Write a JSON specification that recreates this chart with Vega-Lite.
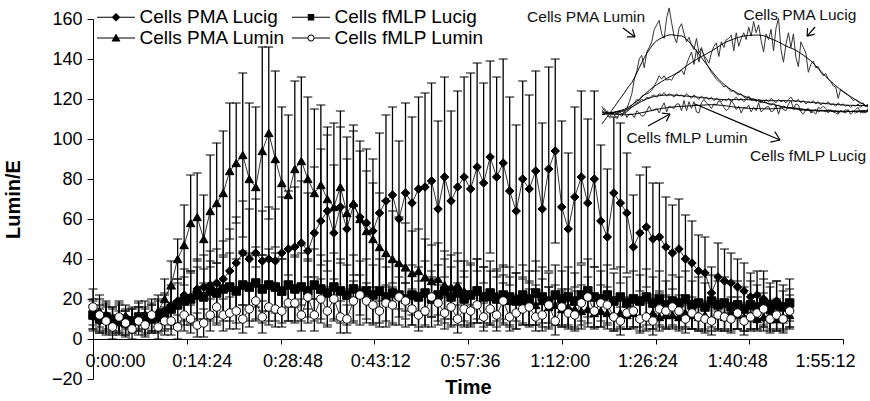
{
"$schema":"https://vega.github.io/schema/vega-lite/v6.json",
"width":750,"height":360,
"autosize":{"type":"none"},
"padding":{"left":93,"top":19,"right":27,"bottom":22},
"background":"white",
"config":{"view":{"stroke":null},"font":"Liberation Sans","axis":{"grid":false}},
"datasets":{
"series":[
{"t":0,"s":"Cells PMA Lucig","v":11,"e":6},{"t":1,"s":"Cells PMA Lucig","v":9,"e":6},{"t":2,"s":"Cells PMA Lucig","v":12,"e":7},{"t":3,"s":"Cells PMA Lucig","v":10,"e":6},{"t":4,"s":"Cells PMA Lucig","v":8,"e":6},{"t":5,"s":"Cells PMA Lucig","v":11,"e":6},{"t":6,"s":"Cells PMA Lucig","v":9,"e":6},{"t":7,"s":"Cells PMA Lucig","v":10,"e":6},{"t":8,"s":"Cells PMA Lucig","v":12,"e":7},{"t":9,"s":"Cells PMA Lucig","v":10,"e":7},
{"t":10,"s":"Cells PMA Lucig","v":12,"e":8},{"t":11,"s":"Cells PMA Lucig","v":14,"e":9},{"t":12,"s":"Cells PMA Lucig","v":17,"e":10},{"t":13,"s":"Cells PMA Lucig","v":19,"e":11},{"t":14,"s":"Cells PMA Lucig","v":22,"e":13},{"t":15,"s":"Cells PMA Lucig","v":21,"e":13},{"t":16,"s":"Cells PMA Lucig","v":25,"e":15},{"t":17,"s":"Cells PMA Lucig","v":26,"e":16},{"t":18,"s":"Cells PMA Lucig","v":27,"e":17},{"t":19,"s":"Cells PMA Lucig","v":28,"e":17},
{"t":20,"s":"Cells PMA Lucig","v":30,"e":19},{"t":21,"s":"Cells PMA Lucig","v":34,"e":21},{"t":22,"s":"Cells PMA Lucig","v":38,"e":23},{"t":23,"s":"Cells PMA Lucig","v":43,"e":26},{"t":24,"s":"Cells PMA Lucig","v":40,"e":25},{"t":25,"s":"Cells PMA Lucig","v":43,"e":27},{"t":26,"s":"Cells PMA Lucig","v":39,"e":25},{"t":27,"s":"Cells PMA Lucig","v":40,"e":26},{"t":28,"s":"Cells PMA Lucig","v":39,"e":26},{"t":29,"s":"Cells PMA Lucig","v":43,"e":28},
{"t":30,"s":"Cells PMA Lucig","v":45,"e":29},{"t":31,"s":"Cells PMA Lucig","v":46,"e":30},{"t":32,"s":"Cells PMA Lucig","v":48,"e":31},{"t":33,"s":"Cells PMA Lucig","v":44,"e":29},{"t":34,"s":"Cells PMA Lucig","v":53,"e":33},{"t":35,"s":"Cells PMA Lucig","v":59,"e":36},{"t":36,"s":"Cells PMA Lucig","v":64,"e":38},{"t":37,"s":"Cells PMA Lucig","v":53,"e":34},{"t":38,"s":"Cells PMA Lucig","v":66,"e":40},{"t":39,"s":"Cells PMA Lucig","v":55,"e":35},
{"t":40,"s":"Cells PMA Lucig","v":67,"e":40},{"t":41,"s":"Cells PMA Lucig","v":61,"e":38},{"t":42,"s":"Cells PMA Lucig","v":58,"e":37},{"t":43,"s":"Cells PMA Lucig","v":54,"e":36},{"t":44,"s":"Cells PMA Lucig","v":63,"e":40},{"t":45,"s":"Cells PMA Lucig","v":69,"e":43},{"t":46,"s":"Cells PMA Lucig","v":72,"e":44},{"t":47,"s":"Cells PMA Lucig","v":60,"e":39},{"t":48,"s":"Cells PMA Lucig","v":73,"e":45},{"t":49,"s":"Cells PMA Lucig","v":68,"e":43},
{"t":50,"s":"Cells PMA Lucig","v":75,"e":46},{"t":51,"s":"Cells PMA Lucig","v":76,"e":47},{"t":52,"s":"Cells PMA Lucig","v":79,"e":49},{"t":53,"s":"Cells PMA Lucig","v":65,"e":44},{"t":54,"s":"Cells PMA Lucig","v":81,"e":50},{"t":55,"s":"Cells PMA Lucig","v":69,"e":45},{"t":56,"s":"Cells PMA Lucig","v":76,"e":48},{"t":57,"s":"Cells PMA Lucig","v":81,"e":50},{"t":58,"s":"Cells PMA Lucig","v":75,"e":58},{"t":59,"s":"Cells PMA Lucig","v":86,"e":52},
{"t":60,"s":"Cells PMA Lucig","v":78,"e":50},{"t":61,"s":"Cells PMA Lucig","v":91,"e":48},{"t":62,"s":"Cells PMA Lucig","v":81,"e":50},{"t":63,"s":"Cells PMA Lucig","v":88,"e":52},{"t":64,"s":"Cells PMA Lucig","v":74,"e":47},{"t":65,"s":"Cells PMA Lucig","v":64,"e":43},{"t":66,"s":"Cells PMA Lucig","v":80,"e":49},{"t":67,"s":"Cells PMA Lucig","v":75,"e":47},{"t":68,"s":"Cells PMA Lucig","v":84,"e":50},{"t":69,"s":"Cells PMA Lucig","v":65,"e":43},
{"t":70,"s":"Cells PMA Lucig","v":85,"e":51},{"t":71,"s":"Cells PMA Lucig","v":94,"e":46},{"t":72,"s":"Cells PMA Lucig","v":66,"e":43},{"t":73,"s":"Cells PMA Lucig","v":55,"e":38},{"t":74,"s":"Cells PMA Lucig","v":71,"e":45},{"t":75,"s":"Cells PMA Lucig","v":81,"e":43},{"t":76,"s":"Cells PMA Lucig","v":68,"e":42},{"t":77,"s":"Cells PMA Lucig","v":80,"e":44},{"t":78,"s":"Cells PMA Lucig","v":59,"e":38},{"t":79,"s":"Cells PMA Lucig","v":51,"e":34},
{"t":80,"s":"Cells PMA Lucig","v":73,"e":38},{"t":81,"s":"Cells PMA Lucig","v":68,"e":40},{"t":82,"s":"Cells PMA Lucig","v":63,"e":30},{"t":83,"s":"Cells PMA Lucig","v":46,"e":26},{"t":84,"s":"Cells PMA Lucig","v":53,"e":29},{"t":85,"s":"Cells PMA Lucig","v":56,"e":30},{"t":86,"s":"Cells PMA Lucig","v":50,"e":28},{"t":87,"s":"Cells PMA Lucig","v":51,"e":27},{"t":88,"s":"Cells PMA Lucig","v":46,"e":25},{"t":89,"s":"Cells PMA Lucig","v":43,"e":24},
{"t":90,"s":"Cells PMA Lucig","v":45,"e":25},{"t":91,"s":"Cells PMA Lucig","v":40,"e":22},{"t":92,"s":"Cells PMA Lucig","v":38,"e":21},{"t":93,"s":"Cells PMA Lucig","v":34,"e":18},{"t":94,"s":"Cells PMA Lucig","v":33,"e":18},{"t":95,"s":"Cells PMA Lucig","v":23,"e":13},{"t":96,"s":"Cells PMA Lucig","v":31,"e":17},{"t":97,"s":"Cells PMA Lucig","v":29,"e":16},{"t":98,"s":"Cells PMA Lucig","v":28,"e":15},{"t":99,"s":"Cells PMA Lucig","v":26,"e":14},
{"t":100,"s":"Cells PMA Lucig","v":24,"e":14},{"t":101,"s":"Cells PMA Lucig","v":21,"e":12},{"t":102,"s":"Cells PMA Lucig","v":22,"e":12},{"t":103,"s":"Cells PMA Lucig","v":20,"e":14},{"t":104,"s":"Cells PMA Lucig","v":18,"e":10},{"t":105,"s":"Cells PMA Lucig","v":19,"e":10},{"t":106,"s":"Cells PMA Lucig","v":16,"e":8},{"t":107,"s":"Cells PMA Lucig","v":17,"e":8},
{"t":0,"s":"Cells PMA Lumin","v":12,"e":7},{"t":1,"s":"Cells PMA Lumin","v":14,"e":8},{"t":2,"s":"Cells PMA Lumin","v":10,"e":7},{"t":3,"s":"Cells PMA Lumin","v":9,"e":6},{"t":4,"s":"Cells PMA Lumin","v":11,"e":7},{"t":5,"s":"Cells PMA Lumin","v":8,"e":6},{"t":6,"s":"Cells PMA Lumin","v":10,"e":6},{"t":7,"s":"Cells PMA Lumin","v":12,"e":7},{"t":8,"s":"Cells PMA Lumin","v":9,"e":6},{"t":9,"s":"Cells PMA Lumin","v":11,"e":7},
{"t":10,"s":"Cells PMA Lumin","v":14,"e":8},{"t":11,"s":"Cells PMA Lumin","v":20,"e":10},{"t":12,"s":"Cells PMA Lumin","v":27,"e":12},{"t":13,"s":"Cells PMA Lumin","v":40,"e":10},{"t":14,"s":"Cells PMA Lumin","v":47,"e":20},{"t":15,"s":"Cells PMA Lumin","v":58,"e":24},{"t":16,"s":"Cells PMA Lumin","v":61,"e":22},{"t":17,"s":"Cells PMA Lumin","v":50,"e":22},{"t":18,"s":"Cells PMA Lumin","v":64,"e":28},{"t":19,"s":"Cells PMA Lumin","v":68,"e":30},
{"t":20,"s":"Cells PMA Lumin","v":73,"e":31},{"t":21,"s":"Cells PMA Lumin","v":84,"e":34},{"t":22,"s":"Cells PMA Lumin","v":88,"e":30},{"t":23,"s":"Cells PMA Lumin","v":92,"e":41},{"t":24,"s":"Cells PMA Lumin","v":80,"e":38},{"t":25,"s":"Cells PMA Lumin","v":76,"e":40},{"t":26,"s":"Cells PMA Lumin","v":94,"e":52},{"t":27,"s":"Cells PMA Lumin","v":103,"e":43},{"t":28,"s":"Cells PMA Lumin","v":90,"e":44},{"t":29,"s":"Cells PMA Lumin","v":78,"e":38},
{"t":30,"s":"Cells PMA Lumin","v":72,"e":40},{"t":31,"s":"Cells PMA Lumin","v":85,"e":44},{"t":32,"s":"Cells PMA Lumin","v":89,"e":42},{"t":33,"s":"Cells PMA Lumin","v":80,"e":41},{"t":34,"s":"Cells PMA Lumin","v":73,"e":42},{"t":35,"s":"Cells PMA Lumin","v":77,"e":40},{"t":36,"s":"Cells PMA Lumin","v":70,"e":36},{"t":37,"s":"Cells PMA Lumin","v":66,"e":42},{"t":38,"s":"Cells PMA Lumin","v":76,"e":38},{"t":39,"s":"Cells PMA Lumin","v":63,"e":38},
{"t":40,"s":"Cells PMA Lumin","v":68,"e":36},{"t":41,"s":"Cells PMA Lumin","v":60,"e":34},{"t":42,"s":"Cells PMA Lumin","v":54,"e":30},{"t":43,"s":"Cells PMA Lumin","v":50,"e":28},{"t":44,"s":"Cells PMA Lumin","v":46,"e":27},{"t":45,"s":"Cells PMA Lumin","v":43,"e":26},{"t":46,"s":"Cells PMA Lumin","v":40,"e":24},{"t":47,"s":"Cells PMA Lumin","v":38,"e":23},{"t":48,"s":"Cells PMA Lumin","v":36,"e":22},{"t":49,"s":"Cells PMA Lumin","v":33,"e":21},
{"t":50,"s":"Cells PMA Lumin","v":34,"e":21},{"t":51,"s":"Cells PMA Lumin","v":31,"e":19},{"t":52,"s":"Cells PMA Lumin","v":29,"e":18},{"t":53,"s":"Cells PMA Lumin","v":30,"e":18},{"t":54,"s":"Cells PMA Lumin","v":27,"e":17},{"t":55,"s":"Cells PMA Lumin","v":26,"e":16},{"t":56,"s":"Cells PMA Lumin","v":27,"e":16},{"t":57,"s":"Cells PMA Lumin","v":24,"e":15},{"t":58,"s":"Cells PMA Lumin","v":23,"e":15},{"t":59,"s":"Cells PMA Lumin","v":25,"e":15},
{"t":60,"s":"Cells PMA Lumin","v":22,"e":14},{"t":61,"s":"Cells PMA Lumin","v":21,"e":13},{"t":62,"s":"Cells PMA Lumin","v":22,"e":13},{"t":63,"s":"Cells PMA Lumin","v":20,"e":12},{"t":64,"s":"Cells PMA Lumin","v":19,"e":12},{"t":65,"s":"Cells PMA Lumin","v":21,"e":12},{"t":66,"s":"Cells PMA Lumin","v":19,"e":11},{"t":67,"s":"Cells PMA Lumin","v":18,"e":11},{"t":68,"s":"Cells PMA Lumin","v":17,"e":10},{"t":69,"s":"Cells PMA Lumin","v":19,"e":11},
{"t":70,"s":"Cells PMA Lumin","v":16,"e":10},{"t":71,"s":"Cells PMA Lumin","v":17,"e":10},{"t":72,"s":"Cells PMA Lumin","v":15,"e":9},{"t":73,"s":"Cells PMA Lumin","v":16,"e":9},{"t":74,"s":"Cells PMA Lumin","v":15,"e":9},{"t":75,"s":"Cells PMA Lumin","v":14,"e":9},{"t":76,"s":"Cells PMA Lumin","v":15,"e":9},{"t":77,"s":"Cells PMA Lumin","v":13,"e":8},{"t":78,"s":"Cells PMA Lumin","v":14,"e":8},{"t":79,"s":"Cells PMA Lumin","v":13,"e":8},
{"t":80,"s":"Cells PMA Lumin","v":12,"e":8},{"t":81,"s":"Cells PMA Lumin","v":13,"e":8},{"t":82,"s":"Cells PMA Lumin","v":12,"e":7},{"t":83,"s":"Cells PMA Lumin","v":13,"e":8},{"t":84,"s":"Cells PMA Lumin","v":11,"e":7},{"t":85,"s":"Cells PMA Lumin","v":12,"e":7},{"t":86,"s":"Cells PMA Lumin","v":13,"e":8},{"t":87,"s":"Cells PMA Lumin","v":11,"e":7},{"t":88,"s":"Cells PMA Lumin","v":12,"e":7},{"t":89,"s":"Cells PMA Lumin","v":12,"e":7},
{"t":90,"s":"Cells PMA Lumin","v":11,"e":7},{"t":91,"s":"Cells PMA Lumin","v":13,"e":8},{"t":92,"s":"Cells PMA Lumin","v":12,"e":7},{"t":93,"s":"Cells PMA Lumin","v":11,"e":7},{"t":94,"s":"Cells PMA Lumin","v":12,"e":7},{"t":95,"s":"Cells PMA Lumin","v":10,"e":6},{"t":96,"s":"Cells PMA Lumin","v":12,"e":7},{"t":97,"s":"Cells PMA Lumin","v":11,"e":7},{"t":98,"s":"Cells PMA Lumin","v":13,"e":8},{"t":99,"s":"Cells PMA Lumin","v":12,"e":7},
{"t":100,"s":"Cells PMA Lumin","v":11,"e":7},{"t":101,"s":"Cells PMA Lumin","v":12,"e":7},{"t":102,"s":"Cells PMA Lumin","v":10,"e":6},{"t":103,"s":"Cells PMA Lumin","v":11,"e":7},{"t":104,"s":"Cells PMA Lumin","v":12,"e":7},{"t":105,"s":"Cells PMA Lumin","v":10,"e":6},{"t":106,"s":"Cells PMA Lumin","v":11,"e":7},{"t":107,"s":"Cells PMA Lumin","v":12,"e":7},
{"t":0,"s":"Cells fMLP Lucig","v":12,"e":8},{"t":1,"s":"Cells fMLP Lucig","v":10,"e":7},{"t":2,"s":"Cells fMLP Lucig","v":11,"e":7},{"t":3,"s":"Cells fMLP Lucig","v":9,"e":7},{"t":4,"s":"Cells fMLP Lucig","v":10,"e":7},{"t":5,"s":"Cells fMLP Lucig","v":8,"e":6},{"t":6,"s":"Cells fMLP Lucig","v":9,"e":6},{"t":7,"s":"Cells fMLP Lucig","v":11,"e":7},{"t":8,"s":"Cells fMLP Lucig","v":9,"e":7},{"t":9,"s":"Cells fMLP Lucig","v":10,"e":7},
{"t":10,"s":"Cells fMLP Lucig","v":11,"e":8},{"t":11,"s":"Cells fMLP Lucig","v":13,"e":9},{"t":12,"s":"Cells fMLP Lucig","v":15,"e":10},{"t":13,"s":"Cells fMLP Lucig","v":17,"e":11},{"t":14,"s":"Cells fMLP Lucig","v":19,"e":12},{"t":15,"s":"Cells fMLP Lucig","v":20,"e":13},{"t":16,"s":"Cells fMLP Lucig","v":22,"e":14},{"t":17,"s":"Cells fMLP Lucig","v":21,"e":14},{"t":18,"s":"Cells fMLP Lucig","v":24,"e":15},{"t":19,"s":"Cells fMLP Lucig","v":23,"e":15},
{"t":20,"s":"Cells fMLP Lucig","v":25,"e":16},{"t":21,"s":"Cells fMLP Lucig","v":26,"e":17},{"t":22,"s":"Cells fMLP Lucig","v":24,"e":16},{"t":23,"s":"Cells fMLP Lucig","v":27,"e":17},{"t":24,"s":"Cells fMLP Lucig","v":26,"e":17},{"t":25,"s":"Cells fMLP Lucig","v":28,"e":18},{"t":26,"s":"Cells fMLP Lucig","v":25,"e":17},{"t":27,"s":"Cells fMLP Lucig","v":27,"e":18},{"t":28,"s":"Cells fMLP Lucig","v":26,"e":17},{"t":29,"s":"Cells fMLP Lucig","v":24,"e":16},
{"t":30,"s":"Cells fMLP Lucig","v":27,"e":18},{"t":31,"s":"Cells fMLP Lucig","v":25,"e":17},{"t":32,"s":"Cells fMLP Lucig","v":26,"e":17},{"t":33,"s":"Cells fMLP Lucig","v":24,"e":16},{"t":34,"s":"Cells fMLP Lucig","v":27,"e":18},{"t":35,"s":"Cells fMLP Lucig","v":25,"e":17},{"t":36,"s":"Cells fMLP Lucig","v":23,"e":16},{"t":37,"s":"Cells fMLP Lucig","v":26,"e":17},{"t":38,"s":"Cells fMLP Lucig","v":24,"e":16},{"t":39,"s":"Cells fMLP Lucig","v":22,"e":15},
{"t":40,"s":"Cells fMLP Lucig","v":25,"e":17},{"t":41,"s":"Cells fMLP Lucig","v":23,"e":16},{"t":42,"s":"Cells fMLP Lucig","v":24,"e":16},{"t":43,"s":"Cells fMLP Lucig","v":22,"e":15},{"t":44,"s":"Cells fMLP Lucig","v":24,"e":16},{"t":45,"s":"Cells fMLP Lucig","v":21,"e":15},{"t":46,"s":"Cells fMLP Lucig","v":23,"e":16},{"t":47,"s":"Cells fMLP Lucig","v":22,"e":15},{"t":48,"s":"Cells fMLP Lucig","v":20,"e":14},{"t":49,"s":"Cells fMLP Lucig","v":22,"e":15},
{"t":50,"s":"Cells fMLP Lucig","v":21,"e":15},{"t":51,"s":"Cells fMLP Lucig","v":23,"e":16},{"t":52,"s":"Cells fMLP Lucig","v":20,"e":14},{"t":53,"s":"Cells fMLP Lucig","v":22,"e":15},{"t":54,"s":"Cells fMLP Lucig","v":24,"e":16},{"t":55,"s":"Cells fMLP Lucig","v":21,"e":15},{"t":56,"s":"Cells fMLP Lucig","v":23,"e":16},{"t":57,"s":"Cells fMLP Lucig","v":20,"e":14},{"t":58,"s":"Cells fMLP Lucig","v":22,"e":15},{"t":59,"s":"Cells fMLP Lucig","v":24,"e":16},
{"t":60,"s":"Cells fMLP Lucig","v":21,"e":15},{"t":61,"s":"Cells fMLP Lucig","v":23,"e":16},{"t":62,"s":"Cells fMLP Lucig","v":20,"e":14},{"t":63,"s":"Cells fMLP Lucig","v":22,"e":15},{"t":64,"s":"Cells fMLP Lucig","v":21,"e":15},{"t":65,"s":"Cells fMLP Lucig","v":19,"e":14},{"t":66,"s":"Cells fMLP Lucig","v":22,"e":15},{"t":67,"s":"Cells fMLP Lucig","v":20,"e":14},{"t":68,"s":"Cells fMLP Lucig","v":23,"e":16},{"t":69,"s":"Cells fMLP Lucig","v":21,"e":15},
{"t":70,"s":"Cells fMLP Lucig","v":19,"e":14},{"t":71,"s":"Cells fMLP Lucig","v":22,"e":15},{"t":72,"s":"Cells fMLP Lucig","v":20,"e":14},{"t":73,"s":"Cells fMLP Lucig","v":21,"e":15},{"t":74,"s":"Cells fMLP Lucig","v":19,"e":14},{"t":75,"s":"Cells fMLP Lucig","v":22,"e":15},{"t":76,"s":"Cells fMLP Lucig","v":24,"e":16},{"t":77,"s":"Cells fMLP Lucig","v":21,"e":15},{"t":78,"s":"Cells fMLP Lucig","v":20,"e":14},{"t":79,"s":"Cells fMLP Lucig","v":22,"e":15},
{"t":80,"s":"Cells fMLP Lucig","v":19,"e":14},{"t":81,"s":"Cells fMLP Lucig","v":21,"e":15},{"t":82,"s":"Cells fMLP Lucig","v":18,"e":13},{"t":83,"s":"Cells fMLP Lucig","v":20,"e":14},{"t":84,"s":"Cells fMLP Lucig","v":19,"e":13},{"t":85,"s":"Cells fMLP Lucig","v":21,"e":14},{"t":86,"s":"Cells fMLP Lucig","v":18,"e":13},{"t":87,"s":"Cells fMLP Lucig","v":20,"e":14},{"t":88,"s":"Cells fMLP Lucig","v":17,"e":12},{"t":89,"s":"Cells fMLP Lucig","v":19,"e":13},
{"t":90,"s":"Cells fMLP Lucig","v":18,"e":13},{"t":91,"s":"Cells fMLP Lucig","v":20,"e":14},{"t":92,"s":"Cells fMLP Lucig","v":17,"e":12},{"t":93,"s":"Cells fMLP Lucig","v":18,"e":13},{"t":94,"s":"Cells fMLP Lucig","v":16,"e":12},{"t":95,"s":"Cells fMLP Lucig","v":19,"e":13},{"t":96,"s":"Cells fMLP Lucig","v":17,"e":12},{"t":97,"s":"Cells fMLP Lucig","v":18,"e":13},{"t":98,"s":"Cells fMLP Lucig","v":16,"e":12},{"t":99,"s":"Cells fMLP Lucig","v":17,"e":12},
{"t":100,"s":"Cells fMLP Lucig","v":15,"e":11},{"t":101,"s":"Cells fMLP Lucig","v":17,"e":12},{"t":102,"s":"Cells fMLP Lucig","v":16,"e":11},{"t":103,"s":"Cells fMLP Lucig","v":18,"e":12},{"t":104,"s":"Cells fMLP Lucig","v":15,"e":11},{"t":105,"s":"Cells fMLP Lucig","v":17,"e":12},{"t":106,"s":"Cells fMLP Lucig","v":16,"e":11},{"t":107,"s":"Cells fMLP Lucig","v":18,"e":12},
{"t":0,"s":"Cells fMLP Lumin","v":16,"e":9},{"t":1,"s":"Cells fMLP Lumin","v":12,"e":8},{"t":2,"s":"Cells fMLP Lumin","v":9,"e":7},{"t":3,"s":"Cells fMLP Lumin","v":6,"e":6},{"t":4,"s":"Cells fMLP Lumin","v":11,"e":8},{"t":5,"s":"Cells fMLP Lumin","v":8,"e":7},{"t":6,"s":"Cells fMLP Lumin","v":5,"e":5},{"t":7,"s":"Cells fMLP Lumin","v":9,"e":7},{"t":8,"s":"Cells fMLP Lumin","v":7,"e":6},{"t":9,"s":"Cells fMLP Lumin","v":12,"e":8},
{"t":10,"s":"Cells fMLP Lumin","v":6,"e":6},{"t":11,"s":"Cells fMLP Lumin","v":9,"e":7},{"t":12,"s":"Cells fMLP Lumin","v":9,"e":7},{"t":13,"s":"Cells fMLP Lumin","v":6,"e":6},{"t":14,"s":"Cells fMLP Lumin","v":12,"e":8},{"t":15,"s":"Cells fMLP Lumin","v":10,"e":7},{"t":16,"s":"Cells fMLP Lumin","v":7,"e":6},{"t":17,"s":"Cells fMLP Lumin","v":8,"e":7},{"t":18,"s":"Cells fMLP Lumin","v":12,"e":8},{"t":19,"s":"Cells fMLP Lumin","v":16,"e":9},
{"t":20,"s":"Cells fMLP Lumin","v":12,"e":8},{"t":21,"s":"Cells fMLP Lumin","v":13,"e":8},{"t":22,"s":"Cells fMLP Lumin","v":14,"e":9},{"t":23,"s":"Cells fMLP Lumin","v":10,"e":7},{"t":24,"s":"Cells fMLP Lumin","v":15,"e":9},{"t":25,"s":"Cells fMLP Lumin","v":19,"e":10},{"t":26,"s":"Cells fMLP Lumin","v":11,"e":8},{"t":27,"s":"Cells fMLP Lumin","v":16,"e":9},{"t":28,"s":"Cells fMLP Lumin","v":15,"e":9},{"t":29,"s":"Cells fMLP Lumin","v":14,"e":8},
{"t":30,"s":"Cells fMLP Lumin","v":18,"e":9},{"t":31,"s":"Cells fMLP Lumin","v":18,"e":9},{"t":32,"s":"Cells fMLP Lumin","v":12,"e":8},{"t":33,"s":"Cells fMLP Lumin","v":21,"e":10},{"t":34,"s":"Cells fMLP Lumin","v":12,"e":8},{"t":35,"s":"Cells fMLP Lumin","v":20,"e":10},{"t":36,"s":"Cells fMLP Lumin","v":14,"e":8},{"t":37,"s":"Cells fMLP Lumin","v":20,"e":10},{"t":38,"s":"Cells fMLP Lumin","v":11,"e":8},{"t":39,"s":"Cells fMLP Lumin","v":10,"e":7},
{"t":40,"s":"Cells fMLP Lumin","v":19,"e":10},{"t":41,"s":"Cells fMLP Lumin","v":22,"e":10},{"t":42,"s":"Cells fMLP Lumin","v":19,"e":9},{"t":43,"s":"Cells fMLP Lumin","v":17,"e":9},{"t":44,"s":"Cells fMLP Lumin","v":14,"e":8},{"t":45,"s":"Cells fMLP Lumin","v":18,"e":9},{"t":46,"s":"Cells fMLP Lumin","v":17,"e":9},{"t":47,"s":"Cells fMLP Lumin","v":21,"e":10},{"t":48,"s":"Cells fMLP Lumin","v":19,"e":9},{"t":49,"s":"Cells fMLP Lumin","v":15,"e":8},
{"t":50,"s":"Cells fMLP Lumin","v":12,"e":8},{"t":51,"s":"Cells fMLP Lumin","v":14,"e":8},{"t":52,"s":"Cells fMLP Lumin","v":21,"e":10},{"t":53,"s":"Cells fMLP Lumin","v":18,"e":9},{"t":54,"s":"Cells fMLP Lumin","v":13,"e":8},{"t":55,"s":"Cells fMLP Lumin","v":16,"e":9},{"t":56,"s":"Cells fMLP Lumin","v":10,"e":7},{"t":57,"s":"Cells fMLP Lumin","v":15,"e":8},{"t":58,"s":"Cells fMLP Lumin","v":14,"e":8},{"t":59,"s":"Cells fMLP Lumin","v":17,"e":9},
{"t":60,"s":"Cells fMLP Lumin","v":11,"e":7},{"t":61,"s":"Cells fMLP Lumin","v":15,"e":8},{"t":62,"s":"Cells fMLP Lumin","v":12,"e":8},{"t":63,"s":"Cells fMLP Lumin","v":19,"e":9},{"t":64,"s":"Cells fMLP Lumin","v":11,"e":7},{"t":65,"s":"Cells fMLP Lumin","v":13,"e":8},{"t":66,"s":"Cells fMLP Lumin","v":15,"e":8},{"t":67,"s":"Cells fMLP Lumin","v":16,"e":9},{"t":68,"s":"Cells fMLP Lumin","v":11,"e":7},{"t":69,"s":"Cells fMLP Lumin","v":12,"e":8},
{"t":70,"s":"Cells fMLP Lumin","v":17,"e":9},{"t":71,"s":"Cells fMLP Lumin","v":9,"e":7},{"t":72,"s":"Cells fMLP Lumin","v":16,"e":9},{"t":73,"s":"Cells fMLP Lumin","v":13,"e":8},{"t":74,"s":"Cells fMLP Lumin","v":12,"e":8},{"t":75,"s":"Cells fMLP Lumin","v":18,"e":9},{"t":76,"s":"Cells fMLP Lumin","v":21,"e":10},{"t":77,"s":"Cells fMLP Lumin","v":14,"e":8},{"t":78,"s":"Cells fMLP Lumin","v":18,"e":9},{"t":79,"s":"Cells fMLP Lumin","v":17,"e":9},
{"t":80,"s":"Cells fMLP Lumin","v":11,"e":7},{"t":81,"s":"Cells fMLP Lumin","v":9,"e":7},{"t":82,"s":"Cells fMLP Lumin","v":13,"e":8},{"t":83,"s":"Cells fMLP Lumin","v":14,"e":8},{"t":84,"s":"Cells fMLP Lumin","v":10,"e":7},{"t":85,"s":"Cells fMLP Lumin","v":11,"e":7},{"t":86,"s":"Cells fMLP Lumin","v":9,"e":7},{"t":87,"s":"Cells fMLP Lumin","v":15,"e":8},{"t":88,"s":"Cells fMLP Lumin","v":14,"e":8},{"t":89,"s":"Cells fMLP Lumin","v":16,"e":9},
{"t":90,"s":"Cells fMLP Lumin","v":14,"e":8},{"t":91,"s":"Cells fMLP Lumin","v":10,"e":7},{"t":92,"s":"Cells fMLP Lumin","v":13,"e":8},{"t":93,"s":"Cells fMLP Lumin","v":11,"e":7},{"t":94,"s":"Cells fMLP Lumin","v":10,"e":7},{"t":95,"s":"Cells fMLP Lumin","v":9,"e":7},{"t":96,"s":"Cells fMLP Lumin","v":12,"e":8},{"t":97,"s":"Cells fMLP Lumin","v":11,"e":7},{"t":98,"s":"Cells fMLP Lumin","v":10,"e":7},{"t":99,"s":"Cells fMLP Lumin","v":13,"e":8},
{"t":100,"s":"Cells fMLP Lumin","v":9,"e":7},{"t":101,"s":"Cells fMLP Lumin","v":11,"e":7},{"t":102,"s":"Cells fMLP Lumin","v":13,"e":8},{"t":103,"s":"Cells fMLP Lumin","v":15,"e":8},{"t":104,"s":"Cells fMLP Lumin","v":10,"e":7},{"t":105,"s":"Cells fMLP Lumin","v":12,"e":8},{"t":106,"s":"Cells fMLP Lumin","v":10,"e":7},{"t":107,"s":"Cells fMLP Lumin","v":14,"e":8}
],
"notes":[
{"label":"Cells PMA Lumin","t":-6.4,"v":95},
{"label":"Cells PMA Lucig","t":79.6,"v":96.7},
{"label":"Cells fMLP Lumin","t":34.2,"v":-12.1},
{"label":"Cells fMLP Lucig","t":82.9,"v":-28.1}
],
"arrows":[
{"t":8.45,"v":85.2,"t2":13.27,"v2":77.3},{"t":13.27,"v":77.3,"t2":12.27,"v2":84.0},{"t":13.27,"v":77.3,"t2":10.06,"v2":77.4},
{"t":85.7,"v":86.1,"t2":82.5,"v2":78.1},{"t":82.5,"v":78.1,"t2":85.6,"v2":79.8},{"t":82.5,"v":78.1,"t2":82.7,"v2":85.1},
{"t":18.5,"v":-1.5,"t2":27.35,"v2":9.1},{"t":27.35,"v":9.1,"t2":24.1,"v2":9.9},{"t":27.35,"v":9.1,"t2":25.9,"v2":2.7},
{"t":37.4,"v":18.0,"t2":71.6,"v2":-13.9},{"t":71.6,"v":-13.9,"t2":69.5,"v2":-6.4},{"t":71.6,"v":-13.9,"t2":67.7,"v2":-15.8}
]
},
"layer":[
{
"data":{"name":"series"},
"encoding":{
"x":{"field":"t","type":"quantitative","scale":{"domain":[0,115.2],"nice":false,"zero":false},
"axis":{"title":"Time","values":[0,14.4,28.8,43.2,57.6,72,86.4,100.8,115.2],"labelExpr":"utcFormat(round(datum.value*60)*1000,'%-H:%M:%S')","offset":-40,"labelFontSize":18,"labelColor":"black","labelFont":"Liberation Sans","tickSize":5,"tickColor":"black","domainColor":"black","labelPadding":8,"titleFontSize":20,"titleFont":"Liberation Sans","titleFontWeight":"bold","titleColor":"black","titlePadding":7,"labelFlush":false,"labelOverlap":false,"grid":false,
"labelOffset":{"condition":[{"test":"datum.value < 7","value":22},{"test":"datum.value < 20","value":15},{"test":"datum.value < 35","value":12},{"test":"datum.value < 50","value":6},{"test":"datum.value < 65","value":2},{"test":"datum.value < 80","value":-2},{"test":"datum.value < 95","value":-8},{"test":"datum.value < 110","value":-12}],"value":-18}}},
"y":{"field":"v","type":"quantitative","scale":{"domain":[-20,160],"nice":false,"zero":false},
"axis":{"title":"Lumin/E","values":[-20,0,20,40,60,80,100,120,140,160],"labelFontSize":18,"labelColor":"black","labelFont":"Liberation Sans","tickSize":6,"tickColor":"black","domainColor":"black","labelPadding":5,"titleFontSize":20,"titleFont":"Liberation Sans","titleFontWeight":"bold","titleColor":"black","titlePadding":28,"labelFlush":false,"labelOverlap":false,"grid":false}}
},
"layer":[
{"mark":{"type":"errorbar","ticks":{"size":9,"color":"black","opacity":1,"thickness":1},"rule":{"color":"black","strokeWidth":1.3,"opacity":1},"color":"black"},
"encoding":{"yError":{"field":"e"}}},
{"mark":{"type":"line","color":"black","strokeWidth":0.8},
"encoding":{"detail":{"field":"s"}}},
{"mark":{"type":"point","filled":true,"stroke":"black","strokeWidth":1,"opacity":1,"size":72},
"encoding":{
"shape":{"field":"s","scale":{"domain":["Cells PMA Lucig","Cells PMA Lumin","Cells fMLP Lucig","Cells fMLP Lumin"],"range":["diamond","triangle-up","square","circle"]},"legend":null},
"fill":{"field":"s","scale":{"domain":["Cells PMA Lucig","Cells PMA Lumin","Cells fMLP Lucig","Cells fMLP Lumin"],"range":["black","black","black","white"]},"legend":null}}},
{"transform":[{"filter":"false"}],
"mark":{"type":"point","filled":true,"color":"black","opacity":1},
"encoding":{
"shape":{"field":"s","scale":{"domain":["Cells PMA Lucig","Cells PMA Lumin","Cells fMLP Lucig","Cells fMLP Lumin"],"range":["M-2,-0.055H2V0.055H-2Z M0,-0.46L0.46,0L0,0.46L-0.46,0Z","M-2,-0.055H2V0.055H-2Z M0,-0.48L0.48,0.37L-0.48,0.37Z","M-2,-0.055H2V0.055H-2Z M-0.34,-0.34H0.34V0.34H-0.34Z","M-2,-0.055H-0.36V0.055H-2Z M0.36,-0.055H2V0.055H0.36Z M0.37,0A0.37,0.37 0 1,1 -0.37,0A0.37,0.37 0 1,1 0.37,0Z M0.27,0A0.27,0.27 0 1,0 -0.27,0A0.27,0.27 0 1,0 0.27,0Z"]},
"legend":{"title":null,"orient":"none","legendX":13.5,"legendY":-11.5,"columns":2,"columnPadding":6,"rowPadding":1,"symbolSize":361,"symbolStrokeWidth":0,"symbolFillColor":"black","labelFontSize":19,"labelFont":"Liberation Sans","labelColor":"black","labelOffset":14,"padding":0,"symbolOpacity":1}}}}
],
"resolve":{"scale":{"shape":"independent","fill":"independent"}}
},
{
"layer":[
{"data":{"name":"series"},"mark":{"type":"line","color":"#333","strokeWidth":1},
"encoding":{"x":{"field":"t","type":"quantitative","scale":{"domain":[0,107],"range":[509,775],"nice":false,"zero":false},"axis":null},
"y":{"field":"v","type":"quantitative","scale":{"domain":[0,100],"range":[105.3,-7.7],"nice":false,"zero":false},"axis":null},
"detail":{"field":"s"}}},
{"data":{"name":"series"},"transform":[{"loess":"v","on":"t","groupby":["s"],"bandwidth":0.18}],
"mark":{"type":"line","color":"black","strokeWidth":1},
"encoding":{"x":{"field":"t","type":"quantitative"},"y":{"field":"v","type":"quantitative"},"detail":{"field":"s"}}},
{"data":{"name":"arrows"},"mark":{"type":"rule","color":"black","strokeWidth":1.2},
"encoding":{"x":{"field":"t","type":"quantitative"},"y":{"field":"v","type":"quantitative"},"x2":{"field":"t2"},"y2":{"field":"v2"}}},
{"data":{"name":"notes"},"mark":{"type":"text","fontSize":15.5,"font":"Liberation Sans","color":"#111"},
"encoding":{"x":{"field":"t","type":"quantitative"},"y":{"field":"v","type":"quantitative"},"text":{"field":"label"}}}
]
}
],
"resolve":{"scale":{"x":"independent","y":"independent"},"axis":{"x":"independent","y":"independent"}}
}
